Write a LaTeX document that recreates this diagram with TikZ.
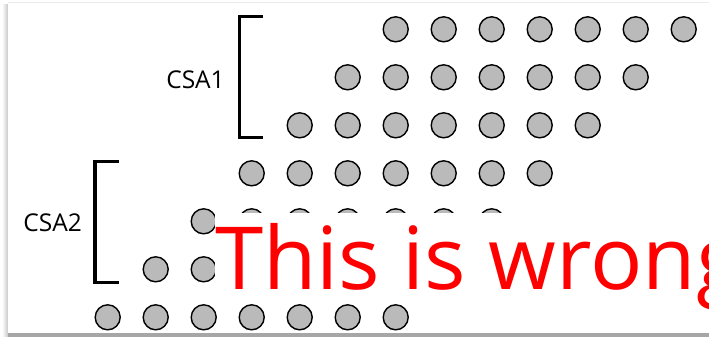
\documentclass[tikz,border=0pt]{standalone}
\usepackage{fontspec}
\setmainfont{Open Sans}
\usepackage{xcolor}
\usepackage{tikz}
\usetikzlibrary{positioning}

\begin{document}
\begin{tikzpicture}[
      x=1pt, y=-1pt,
      dot/.style={circle, draw, line width=1.4pt, fill=black!27, minimum size=25pt, inner sep=0pt},
      brack/.style={line width=3.5pt},
      lbl/.style={font=\fontsize{24.5}{28}\selectfont, inner sep=0pt}
    ]
      \useasboundingbox (0,0) rectangle (709,338);
      % page with its shadow
      \shade[left color=white, right color=black!22] (2,4) rectangle (8,336);
      \fill[black!35] (8,333) rectangle (709,337);
      \fill[white] (8,3) rectangle (709,333);
      \draw[black!8] (8,2.5) -- (709,2.5);
      % the dots, one row shifted left per step
      \foreach \r in {0,...,6}
        \foreach \c in {0,...,6}
          \node[dot] (d\r\c) at ({395.7+48*(\c-\r)}, {29.3+48*\r}) {};
      % brackets
      \draw[brack] (263,16.7) -- (239.3,16.7) -- (239.3,137.3) -- (263,137.3);
      \draw[brack] (119,161.7) -- (95,161.7) -- (95,282.7) -- (119,282.7);
      \node[lbl] (csa1) at (195.5,80) {CSA1};
      \node[lbl] (csa2) at (52.7,222.7) {CSA2};
      % the stamp over the lower rows
      \node[anchor=base west, fill=white, text=red, inner sep=0pt,
            text height=76pt, text depth=11pt,
            font=\fontsize{87}{92}\selectfont] (wrong) at (215,289.3) {This is wrong};
    \end{tikzpicture}
\end{document}
